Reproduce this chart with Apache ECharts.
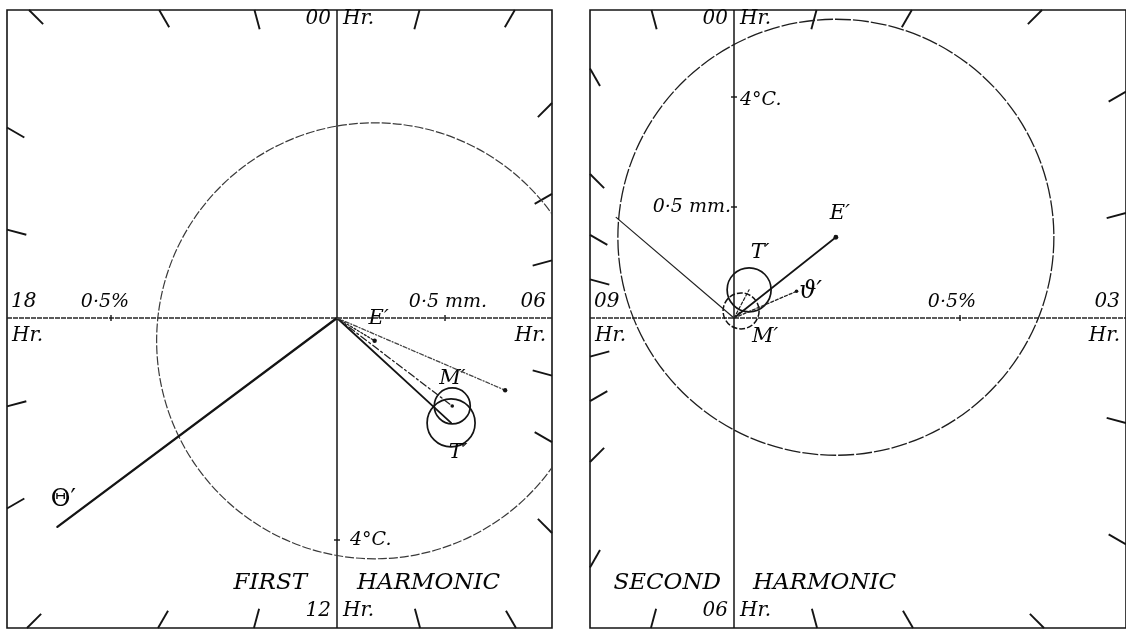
<!DOCTYPE html>
<html>
<head>
<meta charset="utf-8">
<script src="https://cdn.jsdelivr.net/npm/echarts@6/dist/echarts.min.js"></script>
<style>
  html, body { margin: 0; padding: 0; background: #ffffff; }
  #chart { width: 1126px; height: 629px; }
</style>
</head>
<body>
<div id="chart"></div>
<script>
// ---------------- data ----------------
// Harmonic dials: amplitude in dial units, phase in hours (00 at top, clockwise).

// First harmonic: 24 hours round the dial
const dial1Hours = ['00', '06', '12', '18'];
const dial1Title = ['FIRST', 'HARMONIC'];
const vec1Names = ['Θ′', 'E′', 'T′', 'M′', 'm'];
const vec1Amp = [3.49, 0.44, 1.55, 1.45, 1.83];
const vec1Phase = [15.55, 8.08, 8.84, 8.49, 7.55];
const circle1Of = ['E′', 'T′', 'M′'];
const circle1Radius = [2.18, 0.24, 0.18];
const scale1Labels = ['0·5%', '0·5 mm.', '4°C.'];
const scale1Amp = [2.26, 1.08, 2.22];
const scale1Phase = [18, 6, 12];
const marks1 = [1, 2, 3, 4, 5, 7, 8, 9, 10, 11, 13, 14, 15, 16, 17, 19, 20, 21, 22, 23];

// Second harmonic: 12 hours round the dial
const dial2Hours = ['00', '03', '06', '09'];
const dial2Title = ['SECOND', 'HARMONIC'];
const vec2Names = ['E′', 'T′', 'ϑ′', 'M′', 'm'];
const vec2Amp = [1.30, 0.32, 0.68, 0.10, 1.55];
const vec2Phase = [1.72, 0.94, 2.23, 1.5, 10.35];
const circle2Of = ['E′', 'T′', 'M′'];
const circle2Radius = [2.18, 0.22, 0.18];
const scale2Labels = ['4°C.', '0·5 mm.', '0·5%'];
const scale2Amp = [2.21, 1.11, 2.26];
const scale2Phase = [0, 0, 3];
const marks2 = [0.5, 1, 1.5, 2, 2.5, 3.5, 4, 4.5, 5, 5.5, 6.5, 7, 7.5, 8, 8.5, 9.5, 10, 10.5, 11, 11.5];

// ---------------- drawing ----------------
const INK = '#141414';
const font = (s, italic) => (italic === false ? '' : 'italic ') + s + 'px "DejaVu Serif", "Liberation Serif", serif';
const textStyle = (text, size, italic, align) => ({
  text: text, font: font(size, italic), fill: '#050505',
  align: align, verticalAlign: 'middle'
});

function polar(amp, phase, period) {
  const a = 2 * Math.PI * phase / period;
  return [amp * Math.sin(a), amp * Math.cos(a)];
}

const panels = [
  {
    period: 24, hours: dial1Hours, title: dial1Title,
    names: vec1Names, amp: vec1Amp, phase: vec1Phase,
    circleOf: circle1Of, circleR: circle1Radius,
    scaleLabels: scale1Labels, scaleAmp: scale1Amp, scalePhase: scale1Phase, marks: marks1,
    grid: { left: 7, top: 10, width: 545, height: 618 },
    xRange: [-3.30, 2.15], yRange: [-3.10, 3.08],
    vecStyle: {
      'Θ′': { stroke: INK, lineWidth: 2.3 },
      'E′': { stroke: '#222', lineWidth: 1.3, lineDash: [2, 2] },
      'T′': { stroke: INK, lineWidth: 1.8 },
      'M′': { stroke: '#222', lineWidth: 1.3, lineDash: [7, 3, 2, 3] },
      'm': { stroke: '#444', lineWidth: 1.3, lineDash: [4, 2, 1, 2] }
    },
    vecDot: { 'E′': 2.2, 'm': 2.2, 'M′': 1.8 },
    vecLabel: {
      'Θ′': { dx: 6, dy: -27, italic: false, size: 24 },
      'E′': { dx: 4, dy: -22 },
      'T′': { dx: 7, dy: 30 },
      'M′': { dx: 0, dy: -27 }
    },
    circleStyle: [
      { stroke: '#3a3a3a', lineWidth: 1.2, lineDash: [9, 2] },
      { stroke: INK, lineWidth: 1.7 },
      { stroke: INK, lineWidth: 1.7 }
    ],
    scaleText: [
      { dx: -6, dy: -16, align: 'center' },
      { dx: 3, dy: -16, align: 'center' },
      { dx: 13, dy: 0, align: 'left' }
    ],
    titleGap: [30, 20]
  },
  {
    period: 12, hours: dial2Hours, title: dial2Title,
    names: vec2Names, amp: vec2Amp, phase: vec2Phase,
    circleOf: circle2Of, circleR: circle2Radius,
    scaleLabels: scale2Labels, scaleAmp: scale2Amp, scalePhase: scale2Phase, marks: marks2,
    grid: { left: 590, top: 10, width: 536, height: 618 },
    xRange: [-1.44, 3.92], yRange: [-3.10, 3.08],
    vecStyle: {
      'E′': { stroke: INK, lineWidth: 1.7 },
      'T′': { stroke: '#222', lineWidth: 1.2, lineDash: [3, 2] },
      'ϑ′': { stroke: '#222', lineWidth: 1.3, lineDash: [3, 2] },
      'M′': { stroke: '#222', lineWidth: 1.2, lineDash: [3, 2] },
      'm': { stroke: '#222', lineWidth: 1.2 }
    },
    vecDot: { 'E′': 2.4, 'ϑ′': 1.8 },
    vecLabel: {
      'E′': { dx: 4, dy: -24 },
      'T′': { dx: 11, dy: -37 },
      'ϑ′': { dx: 14, dy: 0, size: 24 },
      'M′': { dx: 24, dy: 26 }
    },
    circleStyle: [
      { stroke: '#1e1e1e', lineWidth: 1.3, lineDash: [16, 2] },
      { stroke: INK, lineWidth: 1.7 },
      { stroke: INK, lineWidth: 1.5, lineDash: [6, 2] }
    ],
    scaleText: [
      { dx: 6, dy: 3, align: 'left' },
      { dx: -3, dy: 0, align: 'right' },
      { dx: -8, dy: -16, align: 'center' }
    ],
    titleGap: [13, 19]
  }
];

const grids = [], xAxes = [], yAxes = [], series = [];

panels.forEach((P, k) => {
  grids.push(Object.assign({ show: true, borderColor: INK, borderWidth: 1.6, backgroundColor: 'transparent' }, P.grid));
  xAxes.push({ type: 'value', gridIndex: k, min: P.xRange[0], max: P.xRange[1], show: false });
  yAxes.push({ type: 'value', gridIndex: k, min: P.yRange[0], max: P.yRange[1], show: false });

  const base = { type: 'custom', xAxisIndex: k, yAxisIndex: k, silent: true, animation: false };
  const clipOf = params => ({ type: 'rect', shape: {
    x: params.coordSys.x, y: params.coordSys.y, width: params.coordSys.width, height: params.coordSys.height } });
  const xr = P.xRange, yr = P.yRange;

  // crossing axes through the origin
  series.push(Object.assign({}, base, {
    data: [[0, 0]],
    renderItem: (params, api) => {
      const a = api.coord([xr[0], 0]), b = api.coord([xr[1], 0]);
      const c = api.coord([0, yr[0]]), d = api.coord([0, yr[1]]);
      return { type: 'group', children: [
        { type: 'line', shape: { x1: a[0], y1: a[1], x2: b[0], y2: b[1] },
          style: { stroke: '#262626', lineWidth: 1.5, lineDash: [5, 1] } },
        { type: 'line', shape: { x1: c[0], y1: c[1], x2: d[0], y2: d[1] },
          style: { stroke: INK, lineWidth: 1.5 } }
      ] };
    }
  }));

  // hour marks along the frame, pointing at the origin
  series.push(Object.assign({}, base, {
    data: P.marks.map(h => [h, 0]),
    renderItem: (params, api) => {
      const h = P.marks[params.dataIndex];
      const a = 2 * Math.PI * h / P.period;
      const sx = Math.sin(a), sy = Math.cos(a);
      const cands = [];
      if (sx > 1e-9) cands.push(xr[1] / sx);
      if (sx < -1e-9) cands.push(xr[0] / sx);
      if (sy > 1e-9) cands.push(yr[1] / sy);
      if (sy < -1e-9) cands.push(yr[0] / sy);
      const t = Math.min.apply(null, cands);
      const p1 = api.coord([t * sx, t * sy]);
      const p2 = api.coord([(t - 0.2) * sx, (t - 0.2) * sy]);
      return { type: 'line', shape: { x1: p1[0], y1: p1[1], x2: p2[0], y2: p2[1] },
        style: { stroke: INK, lineWidth: 1.9 } };
    }
  }));

  // circles round the vector ends
  const circleData = P.circleOf.map((n, j) => {
    const i = P.names.indexOf(n);
    return polar(P.amp[i], P.phase[i], P.period).concat([P.circleR[j]]);
  });
  series.push(Object.assign({}, base, {
    data: circleData,
    renderItem: (params, api) => {
      const c = api.coord([api.value(0), api.value(1)]);
      const r = api.size([api.value(2), 0])[0];
      return { type: 'group', clipPath: clipOf(params), children: [
        { type: 'circle', shape: { cx: c[0], cy: c[1], r: r },
          style: Object.assign({ fill: null }, P.circleStyle[params.dataIndex]) }
      ] };
    }
  }));

  // vectors from the origin
  const vecData = P.names.map((n, i) => polar(P.amp[i], P.phase[i], P.period));
  series.push(Object.assign({}, base, {
    data: vecData,
    renderItem: (params, api) => {
      const name = P.names[params.dataIndex];
      const o = api.coord([0, 0]);
      const p = api.coord([api.value(0), api.value(1)]);
      const kids = [{ type: 'line', shape: { x1: o[0], y1: o[1], x2: p[0], y2: p[1] },
        style: Object.assign({ fill: null, lineCap: 'round' }, P.vecStyle[name]) }];
      if (P.vecDot[name]) {
        kids.push({ type: 'circle', shape: { cx: p[0], cy: p[1], r: P.vecDot[name] }, style: { fill: INK } });
      }
      const lab = P.vecLabel[name];
      if (lab) {
        kids.push({ type: 'text', x: p[0] + lab.dx, y: p[1] + lab.dy,
          style: textStyle(name, lab.size || 21, lab.italic, 'center') });
      }
      return { type: 'group', clipPath: clipOf(params), children: kids };
    }
  }));

  // scale marks with their units
  series.push(Object.assign({}, base, {
    data: P.scaleAmp.map((a, i) => polar(a, P.scalePhase[i], P.period)),
    renderItem: (params, api) => {
      const i = params.dataIndex;
      const p = api.coord([api.value(0), api.value(1)]);
      const vertical = Math.abs(api.value(0)) < 1e-6;
      const tick = vertical
        ? { x1: p[0] - 3, y1: p[1], x2: p[0] + 3, y2: p[1] }
        : { x1: p[0], y1: p[1] - 3, x2: p[0], y2: p[1] + 3 };
      const st = P.scaleText[i];
      return { type: 'group', children: [
        { type: 'line', shape: tick, style: { stroke: INK, lineWidth: 1.4 } },
        { type: 'text', x: p[0] + st.dx, y: p[1] + st.dy,
          style: textStyle(P.scaleLabels[i], 19, true, st.align) }
      ] };
    }
  }));

  // hour labels and the panel title
  series.push(Object.assign({}, base, {
    data: [[0, 0]],
    renderItem: (params, api) => {
      const top = api.coord([0, yr[1]]), bot = api.coord([0, yr[0]]);
      const lft = api.coord([xr[0], 0]), rgt = api.coord([xr[1], 0]);
      const t = (text, x, y, align, size) => ({ type: 'text', x: x, y: y,
        style: textStyle(text, size || 20, true, align) });
      const H = P.hours;
      return { type: 'group', children: [
        t(H[0], top[0] - 6, top[1] + 9, 'right'),
        t('Hr.', top[0] + 6, top[1] + 9, 'left'),
        t(H[2], bot[0] - 6, bot[1] - 17, 'right'),
        t('Hr.', bot[0] + 6, bot[1] - 17, 'left'),
        t(H[3], lft[0] + 4, lft[1] - 16, 'left'),
        t('Hr.', lft[0] + 5, lft[1] + 18, 'left'),
        t(H[1], rgt[0] - 6, rgt[1] - 16, 'right'),
        t('Hr.', rgt[0] - 6, rgt[1] + 18, 'right'),
        t(P.title[0], bot[0] - P.titleGap[0], bot[1] - 45, 'right', 23),
        t(P.title[1], bot[0] + P.titleGap[1], bot[1] - 45, 'left', 23)
      ] };
    }
  }));
});

const chart = echarts.init(document.getElementById('chart'), null, { renderer: 'canvas' });
chart.setOption({
  backgroundColor: '#ffffff',
  animation: false,
  grid: grids,
  xAxis: xAxes,
  yAxis: yAxes,
  series: series
});
</script>
</body>
</html>
